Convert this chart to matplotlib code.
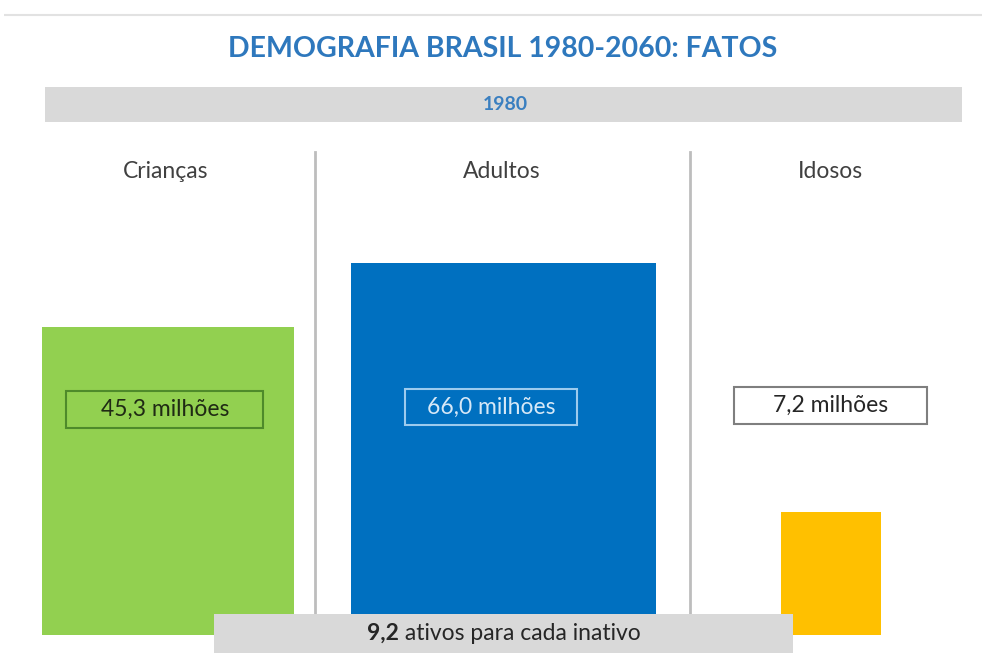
import numpy as np
import matplotlib
matplotlib.use("Agg")
import matplotlib.pyplot as plt
from matplotlib.patches import Rectangle

# Population by age group, Brazil 1980 (millions)
groups = ["Crianças", "Adultos", "Idosos"]
population = [45.3, 66.0, 7.2]
value_labels = ["45,3 milhões", "66,0 milhões", "7,2 milhões"]
year_label = "1980"
title = "DEMOGRAFIA BRASIL 1980-2060: FATOS"
ratio_value = "9,2"
ratio_text = " ativos para cada inativo"

bar_colors = ["#92D050", "#0070C0", "#FFC000"]
box_face = ["#92D050", "#0070C0", "#FFFFFF"]
box_edge = ["#4E8A2A", "#9CCBEE", "#7F7F7F"]
box_text = ["#1F2A14", "#D6E8F7", "#262626"]
box_size = [(197, 37), (172, 36), (193, 37)]
box_center_y = [409, 407, 405]

W, H = 982, 653
fig = plt.figure(figsize=(W / 100, H / 100), dpi=100)
ax = fig.add_axes([0, 0, 1, 1])
ax.set_xlim(0, W)
ax.set_ylim(H, 0)
ax.axis("off")

FONT = "Lato"

# faint rule at the top
ax.plot([4, W], [14.5, 14.5], color="#E2E2E2", lw=1.5, solid_capstyle="butt")

# title
ax.text(503, 49, title, ha="center", va="center", fontsize=20.5,
        fontweight="bold", color="#2E78BD", family=FONT)

# year band
ax.add_patch(Rectangle((45, 87), 917, 35, facecolor="#D9D9D9", edgecolor="none"))
ax.text(505, 105, year_label, ha="center", va="center", fontsize=14,
        fontweight="bold", color="#3A7FC0", family=FONT)

# column separators
for xs in (315, 690):
    ax.plot([xs, xs], [152, 640], color="#BDBDBD", lw=2)

# bars: area proportional to population (width and height scale with sqrt)
centers = np.array([168, 503.5, 831])
baseline = 635
root = np.sqrt(population)
widths = 37.5 * root
heights = 45.8 * root
ax.bar(centers, -heights, bottom=baseline, width=widths, color=bar_colors,
       edgecolor="none", zorder=2)

# column headers
for cx, g in zip([166, 502, 830], groups):
    ax.text(cx, 171, g, ha="center", va="center", fontsize=16.5,
            color="#404040", family=FONT)

# value boxes
for cx, cy, (bw, bh), fc, ec, tc, lab in zip(
        [165, 491, 831], box_center_y, box_size, box_face, box_edge, box_text,
        value_labels):
    ax.add_patch(Rectangle((cx - bw / 2, cy - bh / 2), bw, bh, facecolor=fc,
                           edgecolor=ec, lw=1.5, zorder=3))
    ax.text(cx, cy, lab, ha="center", va="center", fontsize=16.5, color=tc,
            family=FONT, zorder=4)

# bottom ratio band, with the bold figure and the phrase centred together
ax.add_patch(Rectangle((214, 614), 579, 45, facecolor="#D9D9D9",
                       edgecolor="none", zorder=5))
t_bold = ax.text(0, 633, ratio_value, ha="left", va="center", fontsize=16.5,
                 fontweight="bold", color="#262626", family=FONT, zorder=6)
t_reg = ax.text(0, 633, ratio_text, ha="left", va="center", fontsize=16.5,
                color="#262626", family=FONT, zorder=6)
renderer = fig.canvas.get_renderer()
wb = t_bold.get_window_extent(renderer).width
wr = t_reg.get_window_extent(renderer).width
x0 = 503.5 - (wb + wr) / 2
t_bold.set_x(x0)
t_reg.set_x(x0 + wb)

fig.savefig("out.png", dpi=100)
